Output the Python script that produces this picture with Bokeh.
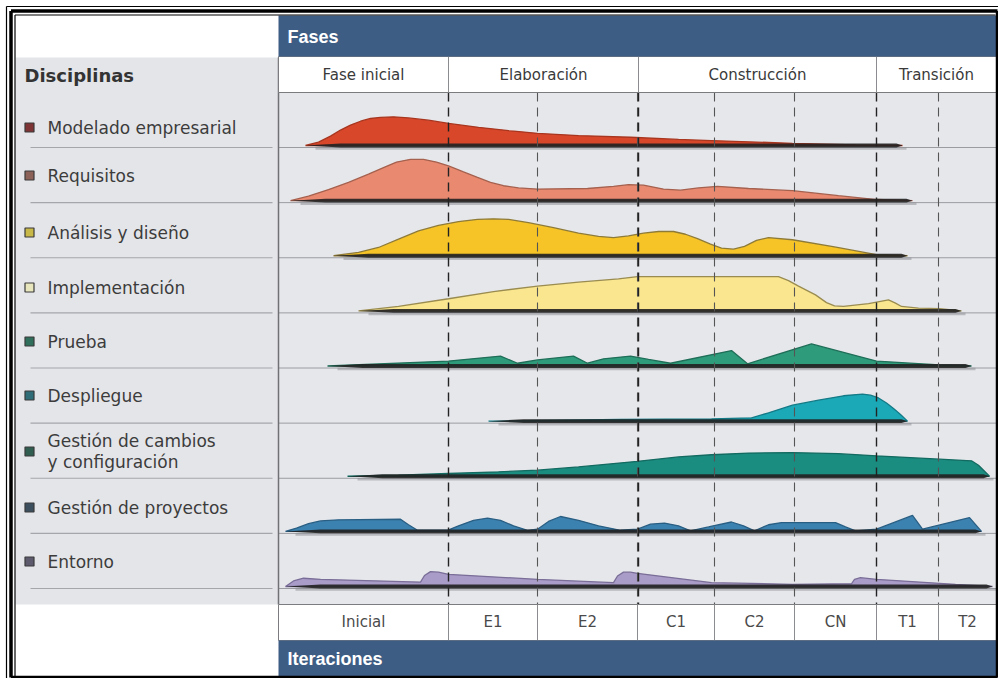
from bokeh.plotting import figure
from bokeh.models import Range1d
from bokeh.embed import file_html
from bokeh.resources import INLINE
from bokeh.core.properties import value

# ---------------- data ----------------
disciplines = ["Modelado empresarial", "Requisitos", "Análisis y diseño", "Implementación",
               "Prueba", "Despliegue", "Gestión de cambios", "Gestión de proyectos", "Entorno"]
discipline_line2 = {"Gestión de cambios": "y configuración"}
phases = ["Fase inicial", "Elaboración", "Construcción", "Transición"]
phase_bounds = [0, 170, 360, 598, 718]
iterations = ["Inicial", "E1", "E2", "C1", "C2", "CN", "T1", "T2"]
iter_bounds = [0, 170, 259, 359, 436, 516, 598, 660, 718]

# effort profiles: position along the timeline and relative effort
modelado_t = [27, 40, 52, 62, 72, 82, 92, 102, 115, 130, 150, 170, 200, 230, 259, 300, 352, 400, 433, 514, 577, 624]
modelado_h = [0, 0.06, 0.17, 0.28, 0.37, 0.44, 0.49, 0.51, 0.52, 0.50, 0.46, 0.40, 0.33, 0.27, 0.22, 0.18,
              0.15, 0.11, 0.09, 0.04, 0.01, 0]
requisitos_t = [12, 30, 50, 70, 90, 105, 118, 132, 145, 158, 170, 185, 199, 212, 225, 240, 259, 309, 335, 350,
                365, 385, 402, 420, 439, 470, 514, 560, 598, 634]
requisitos_h = [0, 0.08, 0.20, 0.33, 0.48, 0.60, 0.70, 0.75, 0.75, 0.70, 0.63, 0.52, 0.42, 0.33, 0.27, 0.23,
                0.21, 0.22, 0.26, 0.29, 0.28, 0.21, 0.19, 0.23, 0.26, 0.22, 0.18, 0.09, 0.02, 0]
analisis_t = [55, 80, 100, 120, 140, 160, 180, 199, 215, 230, 250, 275, 300, 320, 335, 350, 365, 380, 395, 407,
              419, 432, 443, 455, 466, 478, 490, 514, 556, 598, 629]
analisis_h = [0, 0.06, 0.15, 0.30, 0.45, 0.55, 0.62, 0.66, 0.67, 0.66, 0.60, 0.51, 0.41, 0.35, 0.33, 0.36,
              0.41, 0.44, 0.44, 0.39, 0.31, 0.21, 0.14, 0.12, 0.17, 0.28, 0.33, 0.29, 0.16, 0.02, 0]
implementacion_t = [80, 120, 170, 215, 259, 300, 340, 359, 500, 510, 520, 537, 548, 556, 565, 590, 610, 617,
                    623, 640, 661, 683]
implementacion_h = [0, 0.08, 0.22, 0.35, 0.45, 0.52, 0.58, 0.62, 0.62, 0.55, 0.45, 0.29, 0.15, 0.09, 0.08,
                    0.13, 0.20, 0.14, 0.08, 0.05, 0.04, 0]
prueba_t = [49, 170, 222, 239, 259, 295, 309, 325, 352, 370, 392, 453, 469, 533, 598, 661, 693]
prueba_h = [0, 0.09, 0.18, 0.05, 0.11, 0.18, 0.05, 0.13, 0.18, 0.12, 0.05, 0.28, 0.04, 0.40, 0.09, 0.02, 0]
despliegue_t = [210, 342, 433, 473, 490, 514, 540, 565, 584, 592, 600, 608, 615, 622, 629]
despliegue_h = [0, 0.03, 0.04, 0.06, 0.15, 0.29, 0.38, 0.46, 0.49, 0.47, 0.42, 0.33, 0.23, 0.12, 0]
cambios_t = [69, 120, 170, 220, 259, 300, 359, 400, 433, 470, 514, 560, 598, 661, 693, 700, 711]
cambios_h = [0, 0.02, 0.05, 0.08, 0.11, 0.17, 0.27, 0.35, 0.39, 0.42, 0.43, 0.41, 0.37, 0.31, 0.28, 0.20, 0]
proyectos_t = [7, 18, 30, 42, 60, 122, 130, 139, 169, 180, 195, 209, 222, 235, 249, 259, 270, 282, 300, 320,
               342, 359, 372, 386, 400, 412, 430, 453, 465, 476, 490, 503, 557, 567, 577, 598, 634, 644, 691, 703]
proyectos_h = [0, 0.06, 0.14, 0.19, 0.21, 0.22, 0.12, 0.02, 0.02, 0.10, 0.20, 0.24, 0.20, 0.10, 0.02, 0.04,
               0.18, 0.27, 0.20, 0.10, 0.02, 0.04, 0.13, 0.15, 0.10, 0.01, 0.08, 0.17, 0.10, 0.01, 0.12, 0.16,
               0.16, 0.08, 0.01, 0.04, 0.29, 0.04, 0.25, 0]
entorno_t = [7, 15, 25, 42, 142, 146, 152, 160, 170, 259, 335, 339, 345, 352, 359, 433, 514, 573, 576, 582,
             598, 677, 714]
entorno_h = [0, 0.10, 0.15, 0.13, 0.08, 0.20, 0.27, 0.26, 0.22, 0.13, 0.07, 0.19, 0.26, 0.26, 0.24, 0.07,
             0.04, 0.05, 0.13, 0.16, 0.13, 0.04, 0]

profiles_t = [modelado_t, requisitos_t, analisis_t, implementacion_t, prueba_t,
              despliegue_t, cambios_t, proyectos_t, entorno_t]
profiles_h = [modelado_h, requisitos_h, analisis_h, implementacion_h, prueba_h,
              despliegue_h, cambios_h, proyectos_h, entorno_h]

# ---------------- styles ----------------
fill_colors = ["#d9472b", "#e98a70", "#f6c426", "#f9e68e", "#2e9c7a",
               "#1ba9b8", "#1a8c80", "#3c82b0", "#a99cc8"]
edge_colors = ["#a8361f", "#a5604e", "#8f7b38", "#9a8c50", "#1f6e58",
               "#137a86", "#126a60", "#2a5f84", "#7a6e98"]
marker_colors = ["#7e3434", "#8c6258", "#c8b848", "#e8e6bc", "#2f6e5a",
                 "#2f6e78", "#2f5e50", "#3a4e5e", "#5e5a6e"]
HEADER = "#3e5d84"
PANEL = "#e4e5e9"
PLOT_BG = "#e6e7eb"
FONT = "DejaVu Sans"
HFONT = "Liberation Sans"


def X(px):
    return px - 278


def Y(py):
    return (586 - py) / 55.125


p = figure(width=998, height=678, x_range=Range1d(X(0), X(998)), y_range=Range1d(Y(678), Y(0)),
           output_backend="svg", toolbar_location=None, min_border=0,
           x_axis_type=None, y_axis_type=None, outline_line_color=None,
           background_fill_color="white", border_fill_color="white")
p.grid.visible = False

# backgrounds
p.quad(left=[X(15)], right=[X(278)], top=[Y(57)], bottom=[Y(604)], fill_color=PANEL, line_color=None)
p.quad(left=[X(278)], right=[X(996)], top=[Y(92)], bottom=[Y(604)], fill_color=PLOT_BG, line_color=None)

# row separators
nrows = len(disciplines)
sep_y = [Y(147 + 55.125 * k) for k in range(nrows)]
p.segment(x0=[X(30)] * nrows, x1=[X(272)] * nrows, y0=sep_y, y1=sep_y, line_color="#a4a6ab", line_width=1.2)
p.segment(x0=[X(278)] * nrows, x1=[X(996)] * nrows, y0=sep_y, y1=sep_y, line_color="#9a9ca2", line_width=1)

# humps
th = 1.9 / 55.125
for k in range(nrows):
    base = (nrows - 1) - k
    ts = profiles_t[k]
    hs = profiles_h[k]
    ys = [base + h for h in hs]
    p.line([ts[0] + 10, ts[-1] + 4], [base - 3 / 55.125] * 2, line_color="#8a8c92", line_width=2.5, line_alpha=0.5)
    p.patch(ts, ys, fill_color=fill_colors[k], line_color=edge_colors[k], line_width=1.3)
    t0, t1 = ts[0], ts[-1]
    wx = [t0, t0 + 35, t1 - 6, t1, t1 - 6, t0 + 35]
    wy = [base, base + th, base + th, base, base - th, base - th]
    p.patch(wx, wy, fill_color="#222222", line_color=None, fill_alpha=0.9)

# dashed iteration lines
inner_iters = iter_bounds[1:-1]
phase_inner = phase_bounds[1:-1]
minor = [b for b in inner_iters if b not in phase_inner]
p.segment(x0=minor, x1=minor, y0=[Y(92)] * len(minor), y1=[Y(604)] * len(minor),
          line_color="#555555", line_width=1.1, line_dash="9 6")
p.segment(x0=phase_inner, x1=phase_inner, y0=[Y(92)] * len(phase_inner), y1=[Y(604)] * len(phase_inner),
          line_color="#222222", line_width=1.4, line_dash="9 6")

# left panel border
p.segment(x0=[X(278)], x1=[X(278)], y0=[Y(57)], y1=[Y(604)], line_color="#6f7176", line_width=1.5)

# phase header row
p.quad(left=[X(278)], right=[X(996)], top=[Y(56)], bottom=[Y(92)], fill_color="white",
       line_color="#7a7c80", line_width=1)
p.segment(x0=phase_inner, x1=phase_inner, y0=[Y(56)] * len(phase_inner), y1=[Y(92)] * len(phase_inner),
          line_color="#8a8c90", line_width=1)
phase_mid = [(phase_bounds[i] + phase_bounds[i + 1]) / 2 for i in range(len(phases))]
p.text(x=phase_mid, y=[Y(74)] * len(phases), text=phases, text_align="center", text_baseline="middle",
       text_font=value(FONT), text_font_size="15px", text_color="#3a3a3a")

# iteration row
p.quad(left=[X(278)], right=[X(996)], top=[Y(604)], bottom=[Y(640)], fill_color="white",
       line_color="#7a7c80", line_width=1)
p.segment(x0=inner_iters, x1=inner_iters, y0=[Y(604)] * len(inner_iters), y1=[Y(640)] * len(inner_iters),
          line_color="#8a8c90", line_width=1)
iter_mid = [(iter_bounds[i] + iter_bounds[i + 1]) / 2 for i in range(len(iterations))]
p.text(x=iter_mid, y=[Y(621)] * len(iterations), text=iterations, text_align="center", text_baseline="middle",
       text_font=value(FONT), text_font_size="15px", text_color="#4a4a4a")

# header bands
p.quad(left=[X(278)], right=[X(996)], top=[Y(15)], bottom=[Y(56)], fill_color=HEADER, line_color=None)
p.quad(left=[X(278)], right=[X(996)], top=[Y(640)], bottom=[Y(676)], fill_color=HEADER, line_color=None)
p.text(x=[X(287)], y=[Y(36)], text=["Fases"], text_baseline="middle", text_font=value(HFONT),
       text_font_style="bold", text_font_size="18px", text_color="white")
p.text(x=[X(287)], y=[Y(658)], text=["Iteraciones"], text_baseline="middle", text_font=value(HFONT),
       text_font_style="bold", text_font_size="18px", text_color="white")

# left panel texts
p.text(x=[X(24)], y=[Y(75)], text=["Disciplinas"], text_baseline="middle", text_font=value(FONT),
       text_font_style="bold", text_font_size="18px", text_color="#333333")
label_y = [127, 175, 232, 287, 341, 395, 440, 507, 561]
marker_y = [127, 175, 232, 287, 341, 395, 451, 507, 561]
p.scatter(x=[X(29)] * nrows, y=[Y(v) for v in marker_y], marker="square", size=9,
          fill_color=marker_colors, line_color="#3a3a3a", line_width=1.2)
p.text(x=[X(47)] * nrows, y=[Y(v) for v in label_y], text=disciplines, text_baseline="middle",
       text_font=value(FONT), text_font_size="17px", text_color="#3c3c3c")
p.text(x=[X(47)], y=[Y(461)], text=[discipline_line2["Gestión de cambios"]], text_baseline="middle",
       text_font=value(FONT), text_font_size="17px", text_color="#3c3c3c")

# outer frame (thin outer line, thick line, thin inner line)
p.segment(x0=[X(6), X(6)], x1=[X(998), X(6)], y0=[Y(6), Y(6)], y1=[Y(6), Y(678)],
          line_color="black", line_width=1.2)
p.segment(x0=[X(10.5), X(10.5), X(10.5), X(997)], x1=[X(997), X(997), X(10.5), X(997)],
          y0=[Y(10.5), Y(677), Y(10.5), Y(10.5)], y1=[Y(10.5), Y(677), Y(677), Y(677)],
          line_color="black", line_width=3.5)
p.segment(x0=[X(14.5), X(14.5)], x1=[X(995), X(14.5)], y0=[Y(14.5), Y(14.5)], y1=[Y(14.5), Y(676)],
          line_color="black", line_width=1.2)

open("out.html", "w").write(file_html(p, INLINE))
